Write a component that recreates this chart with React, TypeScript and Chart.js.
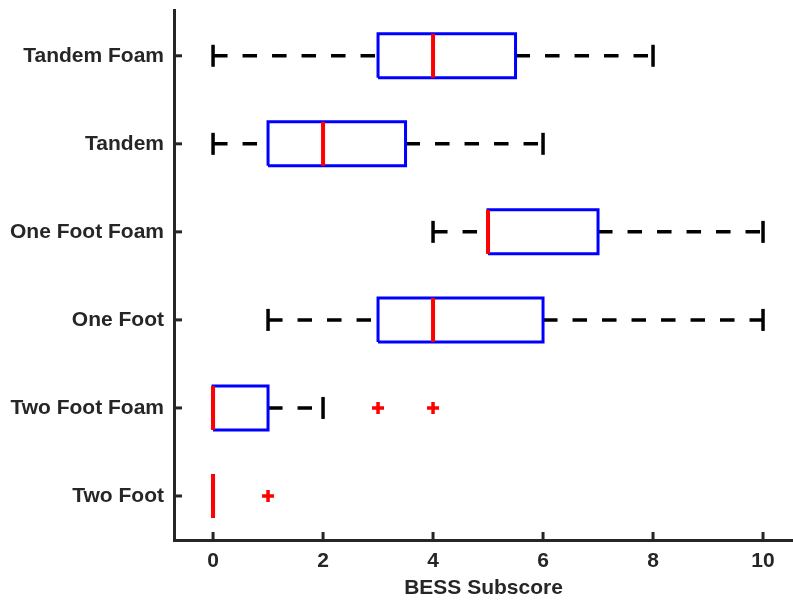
import { useEffect, useRef } from 'react';
import { Chart, registerables } from 'chart.js';

Chart.register(...registerables);

// Categories from bottom (y = 1) to top (y = 6)
const categories = ['Two Foot', 'Two Foot Foam', 'One Foot', 'One Foot Foam', 'Tandem', 'Tandem Foam'];
const whiskerLow = [0, 0, 1, 4, 0, 0];
const quartile1 = [0, 0, 3, 5, 1, 3];
const medians = [0, 0, 4, 5, 2, 4];
const quartile3 = [0, 1, 6, 7, 3.5, 5.5];
const whiskerHigh = [0, 2, 10, 10, 6, 8];
const outliers: number[][] = [[1], [3, 4], [], [], [], []];
const xTickValues = [0, 2, 4, 6, 8, 10];
const xLimits = [-0.71, 10.545];
const yLimits = [0.5, 6.52];

const BOX_HALF = 0.25;
const CAP_HALF = 0.125;
const AXIS_COLOR = '#262626';
const FONT = { family: '"Liberation Sans", Arial, Helvetica, sans-serif', size: 21, weight: 'bold' as const };

function line(points: { x: number; y: number }[], color: string, width: number, dash: number[] = []) {
  return {
    data: points,
    showLine: true,
    borderColor: color,
    borderWidth: width,
    borderDash: dash,
    pointRadius: 0,
    pointHoverRadius: 0,
    fill: false,
  };
}

function buildDatasets() {
  const medianSets: any[] = [];
  const outlierSets: any[] = [];
  const boxSets: any[] = [];
  const whiskerSets: any[] = [];
  categories.forEach((_, i) => {
    const y = i + 1;
    medianSets.push(line([{ x: medians[i], y: y - BOX_HALF }, { x: medians[i], y: y + BOX_HALF }], '#ff0000', 4));
    if (outliers[i].length) {
      outlierSets.push({
        data: outliers[i].map((v) => ({ x: v, y })),
        showLine: false,
        pointStyle: 'cross',
        pointRadius: 6,
        pointHoverRadius: 6,
        pointBorderWidth: 3.5,
        pointBorderColor: '#ff0000',
        borderColor: '#ff0000',
      });
    }
    boxSets.push(
      line(
        [
          { x: quartile1[i], y: y - BOX_HALF },
          { x: quartile3[i], y: y - BOX_HALF },
          { x: quartile3[i], y: y + BOX_HALF },
          { x: quartile1[i], y: y + BOX_HALF },
          { x: quartile1[i], y: y - BOX_HALF },
        ],
        '#0000ff',
        3
      )
    );
    if (whiskerLow[i] < quartile1[i]) {
      whiskerSets.push(line([{ x: whiskerLow[i], y }, { x: quartile1[i], y }], '#000000', 3.5, [14.5, 15]));
    }
    if (whiskerHigh[i] > quartile3[i]) {
      whiskerSets.push(line([{ x: quartile3[i], y }, { x: whiskerHigh[i], y }], '#000000', 3.5, [14.5, 15]));
    }
    whiskerSets.push(line([{ x: whiskerLow[i], y: y - CAP_HALF }, { x: whiskerLow[i], y: y + CAP_HALF }], '#000000', 3.5));
    whiskerSets.push(line([{ x: whiskerHigh[i], y: y - CAP_HALF }, { x: whiskerHigh[i], y: y + CAP_HALF }], '#000000', 3.5));
  });
  // first dataset is drawn on top
  return [...medianSets, ...outlierSets, ...boxSets, ...whiskerSets];
}

const inwardTicks = {
  id: 'inwardTicks',
  afterDraw(chart: any) {
    const { ctx, chartArea, scales } = chart;
    const xs = scales.x;
    const ys = scales.y;
    ctx.save();
    ctx.strokeStyle = AXIS_COLOR;
    ctx.lineWidth = 3;
    xs.ticks.forEach((t: any) => {
      const px = xs.getPixelForValue(t.value);
      ctx.beginPath();
      ctx.moveTo(px, chartArea.bottom);
      ctx.lineTo(px, chartArea.bottom - 8);
      ctx.stroke();
    });
    ys.ticks.forEach((t: any) => {
      const py = ys.getPixelForValue(t.value);
      ctx.beginPath();
      ctx.moveTo(chartArea.left, py);
      ctx.lineTo(chartArea.left + 8, py);
      ctx.stroke();
    });
    ctx.restore();
  },
};

export default function App() {
  const ref = useRef<HTMLCanvasElement | null>(null);
  useEffect(() => {
    if (!ref.current) return;
    const chart = new Chart(ref.current, {
      type: 'scatter',
      data: { datasets: buildDatasets() },
      options: {
        animation: false,
        responsive: false,
        events: [],
        layout: { autoPadding: false, padding: { top: 10, right: 0, left: 0, bottom: 0 } },
        plugins: { legend: { display: false }, tooltip: { enabled: false } },
        scales: {
          x: {
            type: 'linear',
            min: xLimits[0],
            max: xLimits[1],
            afterBuildTicks: (scale: any) => {
              scale.ticks = xTickValues.map((v) => ({ value: v }));
            },
            afterFit: (scale: any) => {
              scale.height = 67;
              scale.paddingLeft = 0;
              scale.paddingRight = 0;
            },
            grid: { display: true, drawOnChartArea: false, drawTicks: false, color: 'rgba(0,0,0,0)' },
            border: { display: true, color: AXIS_COLOR, width: 3 },
            ticks: { color: AXIS_COLOR, font: FONT, padding: 9, maxRotation: 0, autoSkip: false },
            title: { display: true, text: 'BESS Subscore', color: AXIS_COLOR, font: FONT, padding: { top: 6, bottom: 6 } },
          },
          y: {
            type: 'linear',
            min: yLimits[0],
            max: yLimits[1],
            afterBuildTicks: (scale: any) => {
              scale.ticks = categories.map((_, i) => ({ value: i + 1 }));
            },
            afterFit: (scale: any) => {
              scale.width = 174;
              scale.paddingTop = 0;
              scale.paddingBottom = 0;
            },
            grid: { display: true, drawOnChartArea: false, drawTicks: false, color: 'rgba(0,0,0,0)' },
            border: { display: true, color: AXIS_COLOR, width: 3 },
            ticks: {
              color: AXIS_COLOR,
              font: FONT,
              padding: 10,
              autoSkip: false,
              callback: (v: any) => categories[Math.round(Number(v)) - 1] ?? '',
            },
          },
        },
      },
      plugins: [inwardTicks],
    });
    return () => chart.destroy();
  }, []);
  return (
    <div style={{ position: 'absolute', left: 0, top: 0, width: 793, height: 607, overflow: 'hidden', background: '#ffffff' }}>
      <canvas ref={ref} width={793} height={607} style={{ display: 'block' }} />
    </div>
  );
}
